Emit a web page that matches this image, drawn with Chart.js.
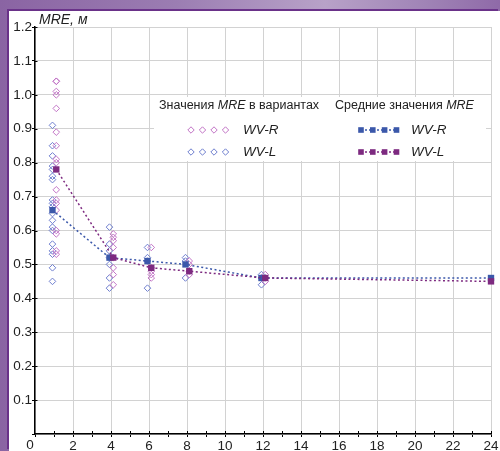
<!DOCTYPE html>
<html><head><meta charset="utf-8">
<script src="https://cdn.jsdelivr.net/npm/chart.js@4/dist/chart.umd.min.js"></script>
<style>
html,body{margin:0;padding:0;width:500px;height:451px;overflow:hidden;}
body{background:linear-gradient(90deg,#8a64a3 0%,#9b7db2 35%,#b8a2c8 65%,#a084b6 85%,#8f6aa8 100%);}
#frame{position:absolute;left:9px;top:11px;width:491px;height:440px;background:#fff;box-shadow:-2px -2px 0 #6a3289;}
canvas{display:block;}
</style></head><body>
<div id="frame"><canvas id="c" width="491" height="440"></canvas></div>
<script>
// ---- data ----
const groupX = [1, 4, 6, 8, 12];
// individual MRE values, WV-R (purple diamonds)
const wvR_values = [
  [1.04, 1.04, 1.01, 1.00, 0.96, 0.89, 0.85, 0.81, 0.80, 0.72, 0.69, 0.68, 0.66, 0.60, 0.59, 0.54, 0.53],
  [0.59, 0.58, 0.57, 0.55, 0.52, 0.49, 0.47, 0.44],
  [0.55, 0.49, 0.48, 0.47, 0.46],
  [0.51, 0.50, 0.48, 0.47],
  [0.47, 0.46, 0.45]
];
// individual MRE values, WV-L (blue diamonds)
const wvL_values = [
  [0.91, 0.85, 0.82, 0.79, 0.78, 0.76, 0.75, 0.69, 0.68, 0.67, 0.65, 0.63, 0.61, 0.60, 0.56, 0.54, 0.53, 0.49, 0.45],
  [0.61, 0.56, 0.54, 0.52, 0.50, 0.46, 0.43],
  [0.55, 0.52, 0.51, 0.43],
  [0.52, 0.51, 0.46],
  [0.47, 0.46, 0.44]
];
const meanX = [1, 4, 6, 8, 12, 24];
const meanBlue_WVR = [0.66, 0.52, 0.51, 0.50, 0.46, 0.46];
const meanPurple_WVL = [0.78, 0.52, 0.49, 0.48, 0.46, 0.45];
const yTickLabels = ['0.1','0.2','0.3','0.4','0.5','0.6','0.7','0.8','0.9','1.0','1.1','1.2'];
const xTickLabels = ['2','4','6','8','10','12','14','16','18','20','22','24'];
const originLabel = '0';

const shiftBlue = -0.08, shiftPurple = 0.12;
const BLUE_D = '#6f7fcf', PURPLE_D = '#c274c6';
const BLUE_M = '#3b58aa', PURPLE_M = '#7d2a80';

function scatterPts(groups, shift){
  const pts = [];
  groups.forEach((vals, i) => vals.forEach(v => pts.push({x: groupX[i] + shift, y: v})));
  return pts;
}
function meanPts(vals, shift){
  return meanX.map((x, i) => ({x: x === 24 ? x : x + shift, y: vals[i]}));
}

Chart.defaults.font.family = "'Liberation Sans', Arial, sans-serif";
Chart.defaults.color = '#222';

const FONT = "'Liberation Sans', Arial, sans-serif";

const overlay = {
  id: 'overlay',
  afterDraw(chart){
    const ctx = chart.ctx, xs = chart.scales.x, ys = chart.scales.y;
    const ax = xs.getPixelForValue(0), ay = ys.getPixelForValue(0);
    ctx.save();
    ctx.strokeStyle = '#000'; ctx.lineWidth = 1;
    xs.ticks.forEach(t => { if (t.value === 0) return; const p = Math.round(xs.getPixelForValue(t.value)) + 0.5;
      ctx.beginPath(); ctx.moveTo(p, ay); ctx.lineTo(p, ay - 3); ctx.stroke(); });
    ys.ticks.forEach(t => { if (t.value === 0) return; const p = Math.round(ys.getPixelForValue(t.value)) + 0.5;
      ctx.beginPath(); ctx.moveTo(ax, p); ctx.lineTo(ax + 2.5, p); ctx.stroke(); });

    // origin label
    ctx.fillStyle = '#222';
    ctx.font = '13.5px ' + FONT;
    ctx.textAlign = 'center'; ctx.textBaseline = 'top';
    ctx.fillText(originLabel, ax - 5, ay + 5);

    // axis title
    ctx.font = 'italic 14px ' + FONT;
    ctx.textBaseline = 'alphabetic'; ctx.textAlign = 'left';
    ctx.fillText('MRE, м', 30, 13);

    // legend box
    ctx.fillStyle = '#fff';
    ctx.fillRect(145, 86, 332, 64);
    ctx.fillStyle = '#222';
    ctx.textBaseline = 'middle';
    function mixed(parts, x, y){
      parts.forEach(([txt, it]) => { ctx.font = (it ? 'italic ' : '') + '12.5px ' + FONT; ctx.fillText(txt, x, y); x += ctx.measureText(txt).width; });
    }
    mixed([['Значения ', false], ['MRE', true], [' в вариантах', false]], 150, 95);
    mixed([['Средние значения ', false], ['MRE', true]], 326, 95);

    function diamonds(color, y){
      ctx.strokeStyle = color; ctx.lineWidth = 1;
      [182, 193.5, 205, 216.5].forEach(cx => { ctx.beginPath(); ctx.moveTo(cx, y - 3.2); ctx.lineTo(cx + 3.2, y); ctx.lineTo(cx, y + 3.2); ctx.lineTo(cx - 3.2, y); ctx.closePath(); ctx.stroke(); });
    }
    function squares(color, y){
      ctx.strokeStyle = color; ctx.fillStyle = color; ctx.lineWidth = 1.5; ctx.setLineDash([2, 2]);
      ctx.beginPath(); ctx.moveTo(352, y); ctx.lineTo(388, y); ctx.stroke(); ctx.setLineDash([]);
      [352, 363.8, 375.6, 387.5].forEach(cx => ctx.fillRect(cx - 2.8, y - 2.8, 5.6, 5.6));
    }
    diamonds(PURPLE_D, 119); diamonds(BLUE_D, 141);
    squares(BLUE_M, 119); squares(PURPLE_M, 141);
    ctx.fillStyle = '#222';
    ctx.font = 'italic 13.5px ' + FONT;
    ctx.fillText('WV-R', 234, 119); ctx.fillText('WV-L', 234, 141);
    ctx.fillText('WV-R', 402, 119); ctx.fillText('WV-L', 402, 141);
    ctx.restore();
  }
};

new Chart(document.getElementById('c'), {
  type: 'scatter',
  data: {
    datasets: [
      { label: 'WV-L mean', data: meanPts(meanPurple_WVL, shiftPurple), type: 'line', showLine: true,
        borderColor: PURPLE_M, backgroundColor: PURPLE_M, borderWidth: 1.5, borderDash: [2, 2.5],
        pointStyle: 'rect', pointRadius: 4.5, pointBorderWidth: 0, fill: false, order: 0, clip: false },
      { label: 'WV-R mean', data: meanPts(meanBlue_WVR, shiftBlue), type: 'line', showLine: true,
        borderColor: BLUE_M, backgroundColor: BLUE_M, borderWidth: 1.5, borderDash: [2, 2.5],
        pointStyle: 'rect', pointRadius: 4.5, pointBorderWidth: 0, fill: false, order: 1, clip: false },
      { label: 'WV-R', data: scatterPts(wvR_values, shiftPurple), pointStyle: 'rectRot', pointRadius: 3.3,
        pointBorderWidth: 1, borderColor: PURPLE_D, backgroundColor: 'rgba(255,255,255,0)', order: 2 },
      { label: 'WV-L', data: scatterPts(wvL_values, shiftBlue), pointStyle: 'rectRot', pointRadius: 3.3,
        pointBorderWidth: 1, borderColor: BLUE_D, backgroundColor: 'rgba(255,255,255,0)', order: 3 }
    ]
  },
  options: {
    responsive: false, animation: false, devicePixelRatio: 1,
    layout: { padding: { left: 0, right: 9, top: 16, bottom: 0 } },
    plugins: { legend: { display: false }, tooltip: { enabled: false } },
    scales: {
      x: {
        type: 'linear', min: 0, max: 24,
        afterFit(s){ s.height = 17; },
        ticks: { stepSize: 1, autoSkip: false, maxRotation: 0, padding: 1, color: '#222', font: { size: 13.5 },
          callback(v){ const i = xTickLabels.indexOf(String(v)); return i >= 0 ? xTickLabels[i] : ''; } },
        grid: { color: ctx => (ctx.tick && ctx.tick.value % 2 === 0) ? '#d2d2d2' : 'rgba(0,0,0,0)', lineWidth: 1,
          tickColor: '#000', tickLength: 3 },
        border: { color: '#000', width: 1.5 }
      },
      y: {
        type: 'linear', min: 0, max: 1.2,
        afterFit(s){ s.width = 26; },
        ticks: { stepSize: 0.1, padding: 0, color: '#222', font: { size: 13.5 },
          callback(v){ const s = Number(v).toFixed(1); return yTickLabels.includes(s) ? s : ''; } },
        grid: { color: '#d2d2d2', lineWidth: 1, tickColor: '#000', tickLength: 3 },
        border: { color: '#000', width: 1.5 }
      }
    }
  },
  plugins: [overlay]
});
</script>
</body></html>
